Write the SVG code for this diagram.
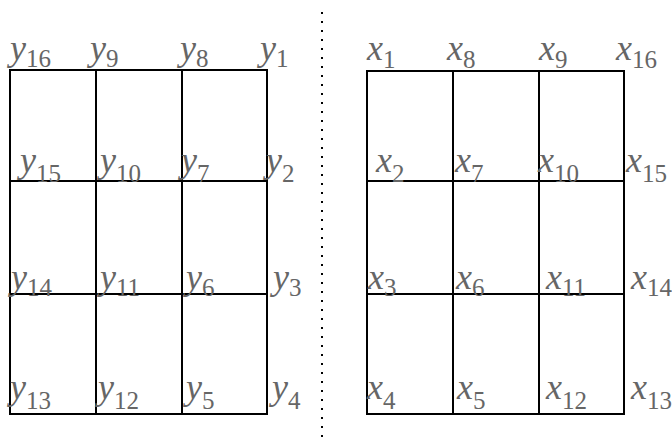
<svg xmlns="http://www.w3.org/2000/svg" width="672" height="437" viewBox="0 0 672 437">
<style>
.g{fill:none;stroke:#000;stroke-width:2}
.d{fill:none;stroke:#000;stroke-width:2;stroke-dasharray:2 7}
.t{fill:#666;font-size:36px;font-family:"Liberation Serif","Times New Roman",serif}
.v{font-style:italic}
.s{font-size:25px}
</style>
<rect width="672" height="437" fill="#fff"/>
<g id="left-grid">
<rect class="g" x="10" y="70" width="257" height="344"/>
<path class="g" d="M96 70V414M182 70V414M10 181H267M10 294H267"/>
</g>
<g id="right-grid">
<rect class="g" x="367" y="71" width="257" height="343"/>
<path class="g" d="M453 71V414M539 71V414M367 181H624M367 294H624"/>
</g>
<g id="divider">
<path class="d" d="M322 12V437"/>
</g>
<g id="left-labels" class="t">
<text x="10" y="60"><tspan class="v">y</tspan><tspan class="s" dy="7">16</tspan></text>
<text x="90" y="60"><tspan class="v">y</tspan><tspan class="s" dy="7">9</tspan></text>
<text x="180" y="60"><tspan class="v">y</tspan><tspan class="s" dy="7">8</tspan></text>
<text x="260" y="60"><tspan class="v">y</tspan><tspan class="s" dy="7">1</tspan></text>
<text x="20" y="172"><tspan class="v">y</tspan><tspan class="s" dy="10">15</tspan></text>
<text x="100" y="172"><tspan class="v">y</tspan><tspan class="s" dy="10">10</tspan></text>
<text x="181" y="172"><tspan class="v">y</tspan><tspan class="s" dy="10">7</tspan></text>
<text x="266" y="172"><tspan class="v">y</tspan><tspan class="s" dy="10">2</tspan></text>
<text x="11" y="289"><tspan class="v">y</tspan><tspan class="s" dy="7">14</tspan></text>
<text x="100" y="289"><tspan class="v">y</tspan><tspan class="s" dy="7">11</tspan></text>
<text x="186" y="289"><tspan class="v">y</tspan><tspan class="s" dy="7">6</tspan></text>
<text x="273" y="289"><tspan class="v">y</tspan><tspan class="s" dy="7">3</tspan></text>
<text x="10" y="399"><tspan class="v">y</tspan><tspan class="s" dy="10">13</tspan></text>
<text x="98" y="399"><tspan class="v">y</tspan><tspan class="s" dy="10">12</tspan></text>
<text x="186" y="399"><tspan class="v">y</tspan><tspan class="s" dy="10">5</tspan></text>
<text x="272" y="399"><tspan class="v">y</tspan><tspan class="s" dy="10">4</tspan></text>
</g>
<g id="right-labels" class="t">
<text x="367" y="60"><tspan class="v">x</tspan><tspan class="s" dy="8">1</tspan></text>
<text x="447" y="60"><tspan class="v">x</tspan><tspan class="s" dy="8">8</tspan></text>
<text x="539" y="60"><tspan class="v">x</tspan><tspan class="s" dy="8">9</tspan></text>
<text x="616" y="60"><tspan class="v">x</tspan><tspan class="s" dy="8">16</tspan></text>
<text x="376" y="172"><tspan class="v">x</tspan><tspan class="s" dy="10">2</tspan></text>
<text x="455" y="172"><tspan class="v">x</tspan><tspan class="s" dy="10">7</tspan></text>
<text x="538" y="172"><tspan class="v">x</tspan><tspan class="s" dy="10">10</tspan></text>
<text x="626" y="172"><tspan class="v">x</tspan><tspan class="s" dy="10">15</tspan></text>
<text x="368" y="289"><tspan class="v">x</tspan><tspan class="s" dy="7">3</tspan></text>
<text x="456" y="289"><tspan class="v">x</tspan><tspan class="s" dy="7">6</tspan></text>
<text x="546" y="289"><tspan class="v">x</tspan><tspan class="s" dy="7">11</tspan></text>
<text x="631" y="289"><tspan class="v">x</tspan><tspan class="s" dy="7">14</tspan></text>
<text x="367" y="399"><tspan class="v">x</tspan><tspan class="s" dy="10">4</tspan></text>
<text x="457" y="399"><tspan class="v">x</tspan><tspan class="s" dy="10">5</tspan></text>
<text x="546" y="399"><tspan class="v">x</tspan><tspan class="s" dy="10">12</tspan></text>
<text x="631" y="399"><tspan class="v">x</tspan><tspan class="s" dy="10">13</tspan></text>
</g>
</svg>
